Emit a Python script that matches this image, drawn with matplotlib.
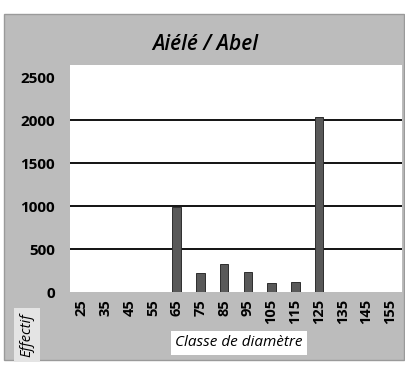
import matplotlib
matplotlib.use("Agg")
import matplotlib.pyplot as plt
from matplotlib.patches import Rectangle

classes = ["25", "35", "45", "55", "65", "75", "85", "95", "105", "115", "125", "135", "145", "155"]
effectif = [0, 0, 0, 0, 990, 220, 330, 230, 110, 115, 2040, 0, 0, 0]
y_ticks = [0, 500, 1000, 1500, 2000, 2500]

W, H = 406, 370
fig = plt.figure(figsize=(W / 100, H / 100), dpi=100)
fig.patch.set_facecolor("white")

# grey chart area
fig.patches.append(Rectangle((4 / W, 1 - 360 / H), 400 / W, 346 / H,
                             transform=fig.transFigure, facecolor="#bcbcbc",
                             edgecolor="#9a9a9a", lw=1.0, zorder=-5))

ax = fig.add_axes([70 / W, 1 - 292 / H, 332 / W, 227 / H])
ax.set_zorder(2)
ax.set_facecolor("white")
x = range(len(classes))
ax.bar(x, effectif, width=0.36, color="#595959", edgecolor="#2e2e2e", lw=0.7, zorder=3)
ax.set_xlim(-0.5, len(classes) - 0.5)
ax.set_ylim(0, 2640)
for v in y_ticks[1:-1]:
    ax.axhline(v, color="black", lw=1.3, zorder=2)
ax.set_yticks(y_ticks)
ax.set_yticklabels([str(v) for v in y_ticks], fontsize=11, fontweight="bold",
                   family="Open Sans")
ax.set_xticks(list(x))
ax.set_xticklabels(classes, rotation=90, fontsize=10.5, fontweight="bold",
                   family="Open Sans")
ax.tick_params(length=0, pad=5)
ax.tick_params(axis="y", pad=11)
for s in ax.spines.values():
    s.set_visible(False)

fig.text(205 / W, 1 - 45 / H, "Aiélé / Abel", ha="center", va="center",
         fontsize=15, style="italic", fontweight="semibold", family="Open Sans",
         zorder=5)
fig.text(239 / W, 1 - 343 / H, "Classe de diamètre", ha="center", va="center",
         fontsize=11, style="italic", family="Open Sans", zorder=5,
         bbox=dict(boxstyle="square,pad=0.3", facecolor="white", edgecolor="none"))
fig.text(27 / W, 1 - 335 / H, "Effectif", ha="center", va="center", rotation=90,
         fontsize=10.5, style="italic", family="Open Sans", zorder=5,
         bbox=dict(boxstyle="square,pad=0.35", facecolor="#e4e4e4", edgecolor="none"))

fig.savefig("out.png", dpi=100, facecolor=fig.get_facecolor())
